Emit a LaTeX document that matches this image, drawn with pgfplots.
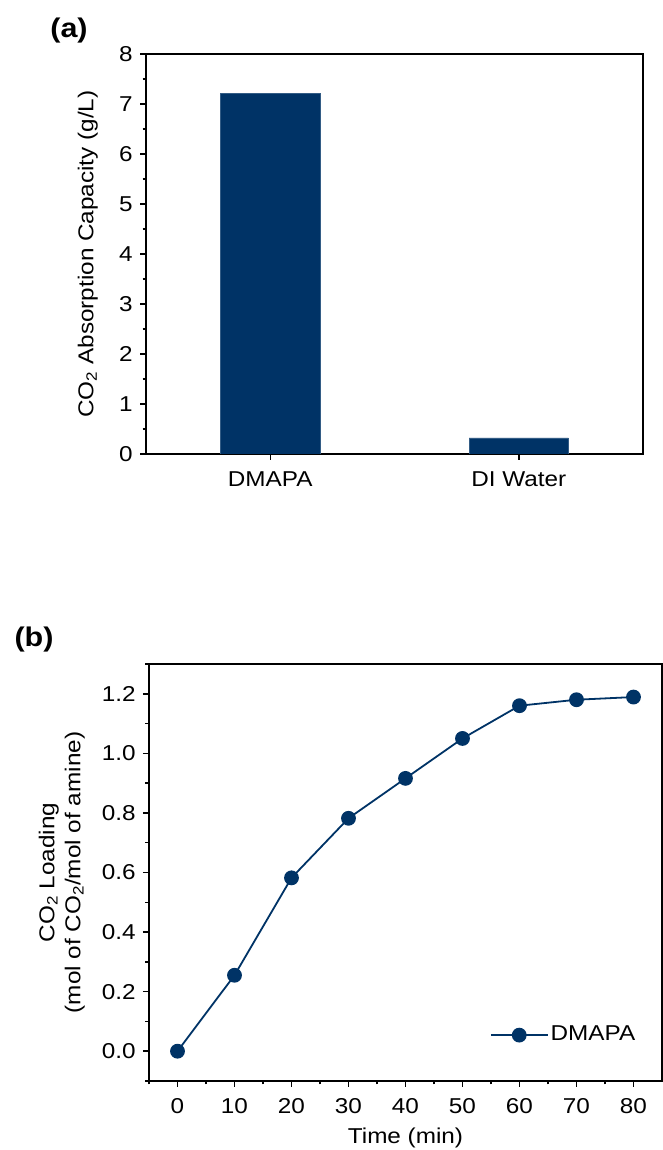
\documentclass[border=0pt]{standalone}
\usepackage{fontspec}
\setmainfont{Liberation Sans}[FakeStretch=1.13]
\usepackage{pgfplots}
\pgfplotsset{compat=1.18}
\definecolor{navy}{RGB}{0,51,102}
\begin{document}
\fontsize{21.5pt}{26pt}\selectfont
\begin{tikzpicture}
\useasboundingbox (0pt,0pt) rectangle (663pt,1150pt);
\pgfplotsset{
  every axis/.append style={
    scale only axis,
    axis line style={line width=1.8pt},
    tick style={line width=1.5pt, black},
    major tick length=6pt,
    minor tick length=3.5pt,
    tick align=outside,
    xtick pos=bottom, ytick pos=left,
    /pgf/number format/assume math mode=true,
    tick label style={font=\fontsize{21.5pt}{26pt}\selectfont},
    xticklabel style={yshift=-4pt},
    label style={font=\fontsize{21.5pt}{26pt}\selectfont},
  }
}
% Panel (a)
\begin{axis}[
  at={(146pt,696pt)}, anchor=south west,
  width=497pt, height=400pt,
  xmin=-0.5, xmax=1.5, ymin=0, ymax=8,
  xtick={0,1}, xticklabels={DMAPA, DI Water},
  ytick={0,1,2,3,4,5,6,7,8},
  minor ytick={0.5,1.5,2.5,3.5,4.5,5.5,6.5,7.5},
  ylabel={CO\textsubscript{2} Absorption Capacity (g/L)},
  ylabel style={at={(axis description cs:-0.117,0.5)}, anchor=center},
  ybar, bar width=0.4,
]
\addplot[fill=navy, draw=navy!80!white, line width=0.6pt] coordinates {(0,7.21) (1,0.32)};
\end{axis}
\node[font=\fontsize{27pt}{31pt}\selectfont\bfseries] at (69pt,1119pt) {(a)};
% Panel (b)
\begin{axis}[
  at={(149pt,69pt)}, anchor=south west,
  width=513pt, height=417pt,
  xmin=-5, xmax=85, ymin=-0.1, ymax=1.3,
  xtick={0,10,20,30,40,50,60,70,80},
  minor xtick={-5,5,15,25,35,45,55,65,75},
  ytick={0,0.2,0.4,0.6,0.8,1.0,1.2},
  minor ytick={-0.1,0.1,0.3,0.5,0.7,0.9,1.1,1.3},
  yticklabel style={/pgf/number format/.cd, fixed, fixed zerofill, precision=1},
  xlabel={Time (min)},
  xlabel style={at={(axis description cs:0.5,-0.137)}, anchor=center},
  ylabel={CO\textsubscript{2} Loading\\(mol of CO\textsubscript{2}/mol of amine)},
  ylabel style={at={(axis description cs:-0.170,0.5)}, anchor=center, align=center},
  legend style={draw=none, fill=none, at={(axis description cs:0.958,0.11)}, anchor=east,
    font=\fontsize{21.5pt}{26pt}\selectfont},
  legend image code/.code={\draw[#1, mark=none] (0pt,0pt) -- (57pt,0pt);
    \draw[#1, only marks] plot coordinates {(28.5pt,0pt)};},
]
\addplot[color=navy, line width=1.8pt, mark=*, mark size=6.5pt]
  coordinates {(0,0) (10,0.255) (20,0.582) (30,0.782) (40,0.916) (50,1.050) (60,1.160) (70,1.180) (80,1.189)};
\addlegendentry{DMAPA}
\end{axis}
\node[font=\fontsize{27pt}{31pt}\selectfont\bfseries] at (34pt,510pt) {(b)};
\end{tikzpicture}
\end{document}
